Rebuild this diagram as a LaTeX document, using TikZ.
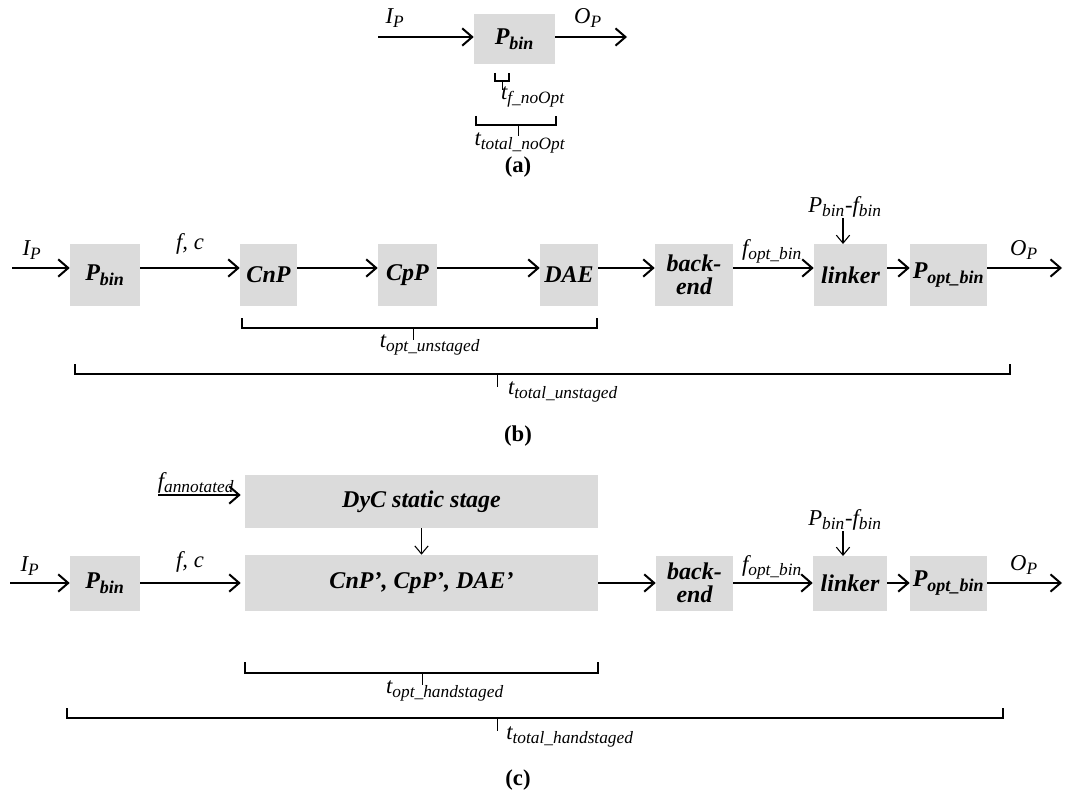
\documentclass[tikz,border=0pt]{standalone}
\usepackage{fontspec}
\setmainfont{Liberation Serif}
\usepackage{amsmath}
\DeclareMathSizes{17}{17}{13}{10}
\DeclareMathSizes{18}{18}{13.5}{10}
\usetikzlibrary{arrows.meta}
\tikzset{
 stage/.style={draw=none, fill=gray!28, inner sep=0pt, font=\fontsize{18}{17}\selectfont\bfseries\itshape, align=center},
 sz/.style 2 args={minimum width=#1*0.75pt, minimum height=#2*0.75pt},
 lbl/.style={inner sep=0pt, font=\fontsize{17}{19}\selectfont\itshape},
 subcap/.style={inner sep=0pt, font=\fontsize{17}{19}\selectfont\bfseries},
 flow/.style={line width=1.5pt, -{Straight Barb[length=7.5pt,width=13pt,line width=1.5pt]}},
 thinflow/.style={line width=0.8pt, -{Straight Barb[length=6pt,width=10pt,line width=0.8pt]}},
 brk/.style={line width=1.3pt},
 tickline/.style={line width=0.7pt},
}
\newcommand{\sbs}[2]{#1$_{\text{#2}}$}
\begin{document}
\begin{tikzpicture}[x=0.75pt,y=-0.75pt]
\useasboundingbox (0,0) rectangle (1065,792);
% ---------------- (a)
\node[stage, sz={81}{50}] (aP) at (514.5,39) {\sbs{P}{bin}};
\coordinate (aIn) at (378,37);
\coordinate (aOut) at (627,37);
\draw[flow] (aIn) -- (aP.west |- aIn);
\draw[flow] (aP.east |- aOut) -- (aOut);
\node[lbl] (aIP) at (395,18) {\sbs{I}{P}};
\node[lbl] (aOP) at (588,18) {\sbs{O}{P}};
\draw[brk] (495,73) -- (495,81) -- (509,81) -- (509,73);
\draw[tickline] (502,81) -- (502,90);
\node[lbl, anchor=north] (atf) at (533,86) {\sbs{t}{f\_noOpt}};
\draw[brk] (476,116) -- (476,125) -- (556,125) -- (556,116);
\draw[tickline] (518,125) -- (518,136);
\node[lbl, anchor=north] (att) at (520,132) {\sbs{t}{total\_noOpt}};
\node[subcap] (acap) at (518,167) {(a)};
% ---------------- (b)
\node[stage, sz={70}{62}] (bP) at (105,275) {\sbs{P}{bin}};
\node[stage, sz={57}{62}] (bCnP) at (268.5,275) {CnP};
\node[stage, sz={59}{62}] (bCpP) at (407.5,275) {CpP};
\node[stage, sz={58}{62}] (bDAE) at (569,275) {DAE};
\node[stage, sz={78}{62}] (bBack) at (694,275) {back-\\end};
\node[stage, sz={73}{62}] (bLink) at (850.5,275) {linker};
\node[stage, sz={77}{62}] (bPopt) at (948.5,275) {\sbs{P}{opt\_bin}};
\coordinate (bIn) at (12,268);
\coordinate (bOut) at (1062,268);
\draw[flow] (bIn) -- (bP.west |- bIn);
\draw[flow] (bP.east |- bIn) -- (bCnP.west |- bIn);
\draw[flow] (bCnP.east |- bIn) -- (bCpP.west |- bIn);
\draw[flow] (bCpP.east |- bIn) -- (bDAE.west |- bIn);
\draw[flow] (bDAE.east |- bIn) -- (bBack.west |- bIn);
\draw[flow] (bBack.east |- bIn) -- (bLink.west |- bIn);
\draw[flow] (bLink.east |- bIn) -- (bPopt.west |- bIn);
\draw[flow] (bPopt.east |- bIn) -- (bOut);
\node[lbl] (bIP) at (32,250) {\sbs{I}{P}};
\node[lbl] (bfc) at (190,244) {f, c};
\node[lbl] (bfo) at (772,251) {\sbs{f}{opt\_bin}};
\node[lbl] (bOP) at (1024,250) {\sbs{O}{P}};
\node[lbl] (bPf) at (845,207) {\sbs{P}{bin}-\sbs{f}{bin}};
\draw[thinflow] (843,218) -- (843,244);
\draw[brk] (242,318) -- (242,328) -- (597,328) -- (597,318);
\draw[tickline] (413,328) -- (413,340);
\node[lbl, anchor=north] (bto) at (430,334) {\sbs{t}{opt\_unstaged}};
\draw[brk] (75,364) -- (75,374) -- (1010,374) -- (1010,364);
\draw[tickline] (497,374) -- (497,387);
\node[lbl, anchor=north] (btt) at (563,381) {\sbs{t}{total\_unstaged}};
\node[subcap] (bcap) at (518,436) {(b)};
% ---------------- (c)
\node[stage, sz={353}{53}] (cDyC) at (421.5,501.5) {DyC static stage};
\node[stage, sz={353}{56}] (cMain) at (421.5,583) {CnP', CpP', DAE'};
\node[stage, sz={70}{55}] (cP) at (105,583) {\sbs{P}{bin}};
\node[stage, sz={77}{55}] (cBack) at (694.5,583) {back-\\end};
\node[stage, sz={74}{55}] (cLink) at (850,583) {linker};
\node[stage, sz={77}{55}] (cPopt) at (948.5,583) {\sbs{P}{opt\_bin}};
\coordinate (cFa) at (158,495);
\draw[flow] (cFa) -- ([xshift=-3pt]cDyC.west |- cFa);
\node[lbl] (cfa) at (196,483) {\sbs{f}{annotated}};
\draw[thinflow] (cDyC.south) -- (cMain.north);
\coordinate (cIn) at (10,583);
\coordinate (cOut) at (1062,583);
\draw[flow] (cIn) -- (cP.west |- cIn);
\draw[flow] (cP.east |- cIn) -- ([xshift=-3pt]cMain.west |- cIn);
\draw[flow] (cMain.east |- cIn) -- (cBack.west |- cIn);
\draw[flow] (cBack.east |- cIn) -- (cLink.west |- cIn);
\draw[flow] (cLink.east |- cIn) -- (cPopt.west |- cIn);
\draw[flow] (cPopt.east |- cIn) -- (cOut);
\node[lbl] (cIP) at (30,566) {\sbs{I}{P}};
\node[lbl] (cfc) at (190,562) {f, c};
\node[lbl] (cfo) at (772,567) {\sbs{f}{opt\_bin}};
\node[lbl] (cOP) at (1024,565) {\sbs{O}{P}};
\node[lbl] (cPf) at (845,520) {\sbs{P}{bin}-\sbs{f}{bin}};
\draw[thinflow] (843,531) -- (843,556);
\draw[brk] (245,662) -- (245,673) -- (598,673) -- (598,662);
\draw[tickline] (422,673) -- (422,685);
\node[lbl, anchor=north] (cto) at (445,680) {\sbs{t}{opt\_handstaged}};
\draw[brk] (67,708) -- (67,718) -- (1003,718) -- (1003,708);
\draw[tickline] (497,718) -- (497,731);
\node[lbl, anchor=north] (ctt) at (570,726) {\sbs{t}{total\_handstaged}};
\node[subcap] (ccap) at (518,780) {(c)};
\end{tikzpicture}
\end{document}
